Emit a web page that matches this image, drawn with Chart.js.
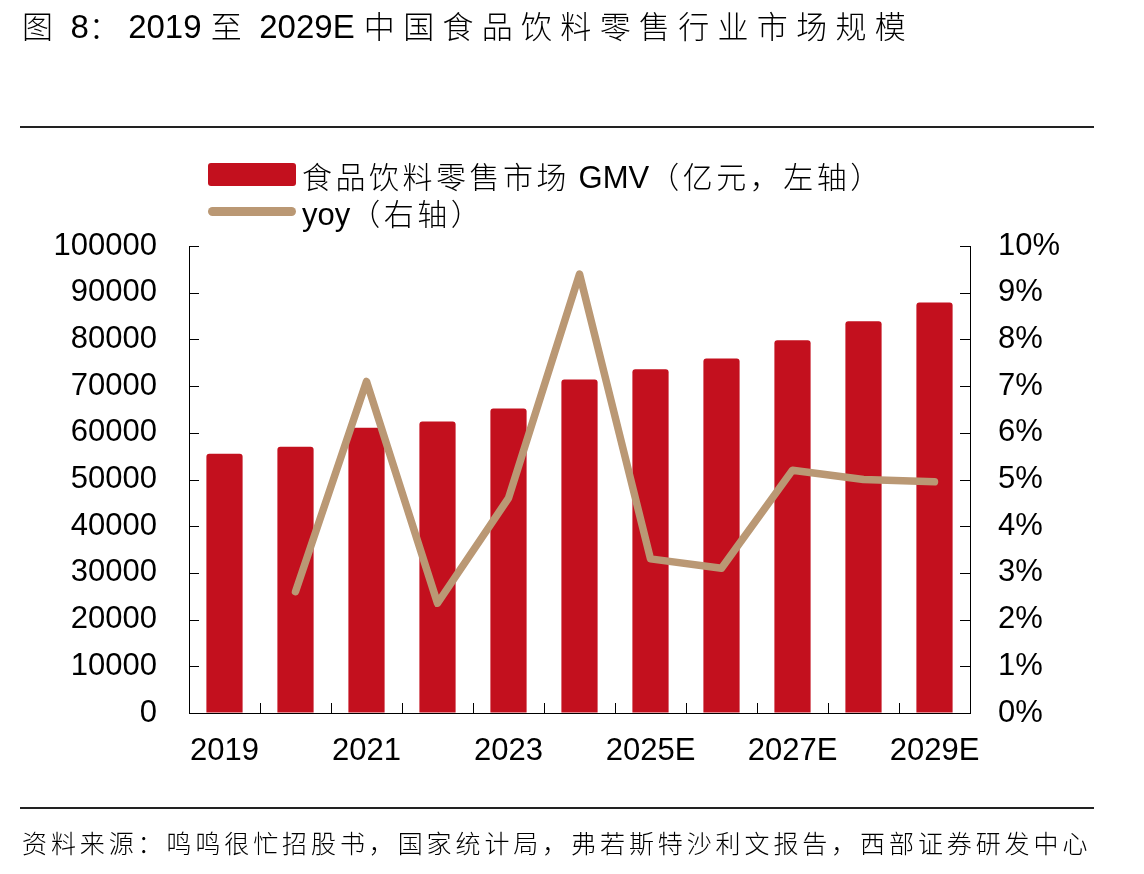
<!DOCTYPE html>
<html>
<head>
<meta charset="utf-8">
<script src="https://cdn.jsdelivr.net/npm/chart.js@4.4.1/dist/chart.umd.min.js"></script>
<style>
    html, body { margin: 0; padding: 0; background: #fff; }
    body { width: 1144px; height: 874px; position: relative; overflow: hidden; font-family: "Liberation Sans", "Noto Sans CJK SC", sans-serif; color: #000; }
    #chart-wrap { position: absolute; left: 0; top: 0; width: 1144px; height: 874px; }
    .title { position: absolute; left: 22px; top: 4px; font-size: 33px; white-space: nowrap; line-height: 42px; }
    .cjk { font-family: "Noto Sans CJK SC", sans-serif; font-weight: 300; }
    .title .cjk { font-size: 31px; letter-spacing: 8.3px; }
    .rule { position: absolute; left: 20px; width: 1074px; height: 2px; background: #222; }
    .legend-row { position: absolute; left: 208px; height: 36px; white-space: nowrap; }
    .legend-row .swatch { position: absolute; left: 0; }
    .legend-row .label { position: absolute; left: 94px; top: 0; line-height: 36px; font-size: 31px; }
    .legend-row .label .cjk { font-size: 30px; letter-spacing: 3.5px; }
    .source { position: absolute; left: 22px; top: 824px; font-size: 25px; letter-spacing: 3.9px; line-height: 36px; white-space: nowrap; }
</style>
</head>
<body>
<div id="chart-wrap"><canvas id="gmvChart" width="1144" height="874"></canvas></div>

<div class="title"><span class="cjk">图</span> 8<span class="cjk">：</span>2019 <span class="cjk">至</span> 2029E <span class="cjk">中国食品饮料零售行业市场规模</span></div>
<div class="rule" style="top:126px"></div>

<div id="legend"></div>

<div class="rule" style="top:807px"></div>
<div class="source cjk">资料来源：鸣鸣很忙招股书，国家统计局，弗若斯特沙利文报告，西部证券研发中心</div>

<script>
// 数据
const categories = ['2019', '2020', '2021', '2022', '2023', '2024', '2025E', '2026E', '2027E', '2028E', '2029E'];
const gmvValues = [55500, 57000, 61100, 62400, 65200, 71400, 73600, 75900, 79800, 83900, 87900]; // 亿元
const yoyValues = [null, 2.6, 7.1, 2.35, 4.6, 9.4, 3.3, 3.1, 5.2, 5.0, 4.95]; // %
const leftTicks = [0, 10000, 20000, 30000, 40000, 50000, 60000, 70000, 80000, 90000, 100000];
const rightTicks = [0, 1, 2, 3, 4, 5, 6, 7, 8, 9, 10];

const barColor = '#C3101E';
const lineColor = '#BA9874';

// 坐标轴内侧刻度
const innerTicks = {
    id: 'innerTicks',
    afterDraw(chart) {
        const { ctx, chartArea: a, scales } = chart;
        ctx.save();
        ctx.strokeStyle = '#000';
        ctx.lineWidth = 1;
        ctx.beginPath();
        leftTicks.forEach((v) => {
            const y = Math.round(scales.y.getPixelForValue(v)) + 0.5;
            ctx.moveTo(a.left, y);
            ctx.lineTo(a.left + 10, y);
        });
        rightTicks.forEach((v) => {
            const y = Math.round(scales.y1.getPixelForValue(v)) + 0.5;
            ctx.moveTo(a.right, y);
            ctx.lineTo(a.right - 10, y);
        });
        for (let i = 1; i < categories.length; i++) {
            const x = Math.round((scales.x.getPixelForValue(i - 1) + scales.x.getPixelForValue(i)) / 2) + 0.5;
            ctx.moveTo(x, a.bottom);
            ctx.lineTo(x, a.bottom - 10);
        }
        ctx.stroke();
        ctx.restore();
    }
};

const tickFont = { family: '"Liberation Sans", Arial, sans-serif', size: 31 };

const ctx = document.getElementById('gmvChart').getContext('2d');
const gmvChart = new Chart(ctx, {
    data: {
        labels: categories,
        datasets: [
            {
                type: 'bar',
                label: '食品饮料零售市场 GMV（亿元，左轴）',
                data: gmvValues,
                yAxisID: 'y',
                backgroundColor: barColor,
                borderWidth: 0,
                borderRadius: { topLeft: 3, topRight: 3 },
                borderSkipped: 'bottom',
                barPercentage: 0.51,
                categoryPercentage: 1,
                order: 2
            },
            {
                type: 'line',
                label: 'yoy（右轴）',
                data: yoyValues,
                yAxisID: 'y1',
                borderColor: lineColor,
                backgroundColor: lineColor,
                borderWidth: 7.5,
                borderCapStyle: 'round',
                borderJoinStyle: 'round',
                pointRadius: 0,
                tension: 0,
                spanGaps: false,
                order: 1
            }
        ]
    },
    options: {
        responsive: false,
        animation: false,
        devicePixelRatio: 1,
        layout: { padding: { left: 0, right: 0, top: 246, bottom: 101 } },
        plugins: {
            legend: { display: false },
            tooltip: { enabled: false }
        },
        scales: {
            x: {
                offset: true,
                grid: { display: true, color: 'rgba(0,0,0,0)', drawTicks: false },
                border: { display: true, color: '#000', width: 1 },
                ticks: {
                    autoSkip: false,
                    maxRotation: 0,
                    padding: 20,
                    color: '#000',
                    font: tickFont,
                    callback: (value, index) => (index % 2 === 0 ? categories[index] : '')
                },
                afterFit: (scale) => { scale.height = 60; }
            },
            y: {
                position: 'left',
                min: 0,
                max: 100000,
                afterBuildTicks: (scale) => { scale.ticks = leftTicks.map((v) => ({ value: v })); },
                grid: { display: true, color: 'rgba(0,0,0,0)', drawTicks: false },
                border: { display: true, color: '#000', width: 1 },
                ticks: {
                    padding: 32,
                    color: '#000',
                    font: tickFont,
                    callback: (value) => String(value)
                },
                afterFit: (scale) => { scale.width = 189; }
            },
            y1: {
                position: 'right',
                min: 0,
                max: 10,
                afterBuildTicks: (scale) => { scale.ticks = rightTicks.map((v) => ({ value: v })); },
                grid: { display: true, color: 'rgba(0,0,0,0)', drawTicks: false, drawOnChartArea: false },
                border: { display: true, color: '#000', width: 1 },
                ticks: {
                    padding: 28,
                    color: '#000',
                    font: tickFont,
                    callback: (value) => value + '%'
                },
                afterFit: (scale) => { scale.width = 174; }
            }
        }
    },
    plugins: [innerTicks]
});

// 图例（HTML）
const legendEl = document.getElementById('legend');
const legendTops = [157, 194];
gmvChart.data.datasets.forEach((ds, i) => {
    const row = document.createElement('div');
    row.className = 'legend-row';
    row.style.top = legendTops[i] + 'px';
    const sw = document.createElement('div');
    sw.className = 'swatch';
    if (ds.type === 'bar') {
        sw.style.cssText = `top:6px;width:88px;height:23px;border-radius:3px;background:${ds.backgroundColor}`;
    } else {
        sw.style.cssText = `top:13px;width:88px;height:9px;border-radius:4.5px;background:${ds.borderColor}`;
    }
    const label = document.createElement('div');
    label.className = 'label';
    label.innerHTML = ds.label
        .replace(/([\u3000-\u9fff\uff00-\uffef]+)/g, '<span class="cjk">$1</span>');
    row.appendChild(sw);
    row.appendChild(label);
    legendEl.appendChild(row);
});
</script>
</body>
</html>
